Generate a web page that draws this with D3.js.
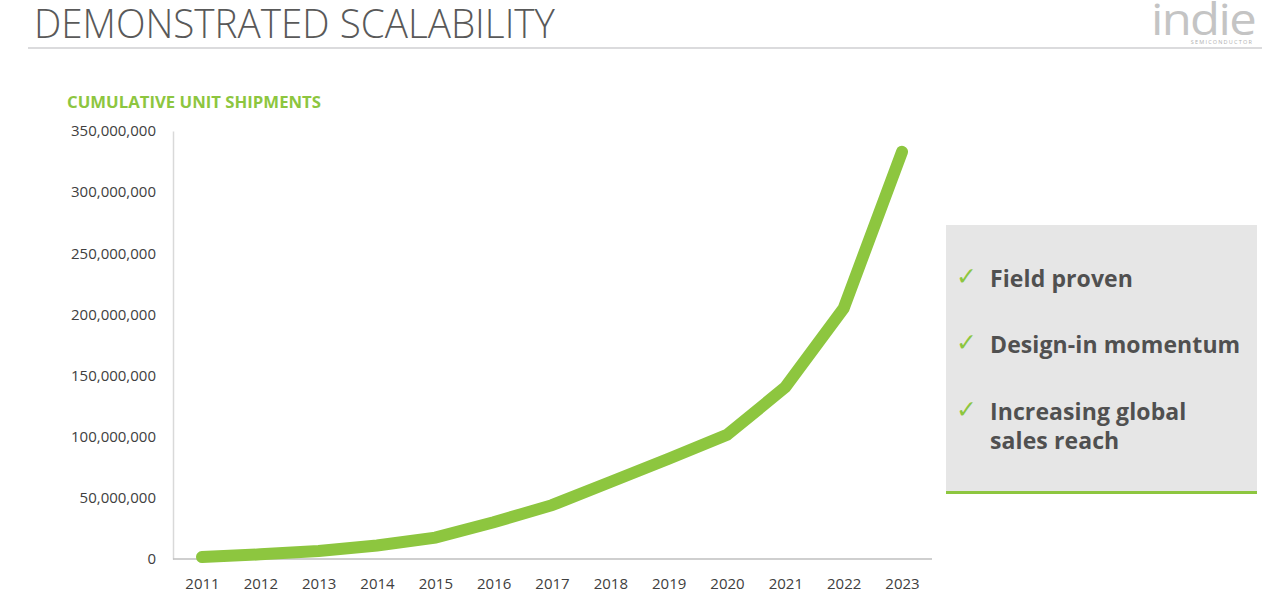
<!DOCTYPE html>
<html><head><meta charset="utf-8">
<script src="https://cdn.jsdelivr.net/npm/d3@7"></script>
<style>body{margin:0;background:#fff}svg{display:block}</style>
</head><body>
<svg id="c" width="1280" height="608"></svg>
<script>
const years = [2011,2012,2013,2014,2015,2016,2017,2018,2019,2020,2021,2022,2023];
const shipments = [1600000,3800000,6500000,11000000,17500000,30000000,44000000,63000000,82000000,101500000,140500000,205000000,333000000];
const yTicks = [0,50000000,100000000,150000000,200000000,250000000,300000000,350000000];
const bullets = [["Field proven"],["Design-in momentum"],["Increasing global","sales reach"]];

const svg = d3.select("#c");
const green = "#8dc63f";
const font = "'Open Sans', sans-serif";

// Header
svg.append("text").attr("x",34).attr("y",38).attr("font-family",font).attr("font-weight",300)
  .attr("font-size",40).attr("fill","#595959").attr("textLength",521).attr("lengthAdjust","spacingAndGlyphs")
  .text("DEMONSTRATED SCALABILITY");
svg.append("line").attr("x1",28).attr("x2",1262).attr("y1",48).attr("y2",48)
  .attr("stroke","#b8b8bc").attr("stroke-width",1.2);
svg.append("text").attr("x",1255).attr("y",35).attr("text-anchor","end").attr("font-family",font)
  .attr("font-weight",400).attr("font-size",44).attr("fill","#c4c4c4").attr("letter-spacing",-1.5)
  .attr("textLength",104).attr("lengthAdjust","spacingAndGlyphs").text("indie");
svg.append("text").attr("x",1253).attr("y",44).attr("text-anchor","end").attr("font-family",font)
  .attr("font-size",5.5).attr("fill","#b0b0b0").attr("letter-spacing",1.2).text("SEMICONDUCTOR");

// Chart title
svg.append("text").attr("x",67).attr("y",108).attr("font-family",font).attr("font-weight",700)
  .attr("font-size",16).attr("fill",green).attr("textLength",254).attr("lengthAdjust","spacingAndGlyphs")
  .text("CUMULATIVE UNIT SHIPMENTS");

// Scales
const x = d3.scalePoint().domain(years).range([202,902]);
const y = d3.scaleLinear().domain([0,350000000]).range([559,131]);

// Axes
const yAxis = svg.append("g").attr("transform","translate(173,0)")
  .call(d3.axisLeft(y).tickValues(yTicks).tickSize(0).tickPadding(17).tickFormat(d3.format(",")));
yAxis.select(".domain").attr("stroke","#d9d9d9").attr("stroke-width",1.5);
yAxis.selectAll("text").attr("font-family",font).attr("font-size",15).attr("fill","#404040");

const xAxis = svg.append("g").attr("transform","translate(0,559)")
  .call(d3.axisBottom(x).tickSize(0).tickPadding(19));
xAxis.select(".domain").attr("d","M173,0H932").attr("stroke","#bfbfbf").attr("stroke-width",1.5);
xAxis.selectAll("text").attr("font-family",font).attr("font-size",15).attr("fill","#404040");

// Line
const line = d3.line().x((d,i)=>x(years[i])).y(d=>y(d));
svg.append("path").datum(shipments).attr("d",line).attr("fill","none")
  .attr("stroke",green).attr("stroke-width",12).attr("stroke-linecap","round").attr("stroke-linejoin","miter");

// Side box
svg.append("rect").attr("x",946).attr("y",225).attr("width",311).attr("height",266).attr("fill","#e6e6e6");
svg.append("line").attr("x1",946).attr("x2",1257).attr("y1",492.5).attr("y2",492.5).attr("stroke",green).attr("stroke-width",3);
const by = [287,353,420];
bullets.forEach((lines,i)=>{
  svg.append("text").attr("x",956).attr("y",by[i]-2).attr("font-family","'DejaVu Sans', sans-serif")
    .attr("font-size",25).attr("fill",green).text("\u2713");
  lines.forEach((t,j)=>{
    svg.append("text").attr("x",990).attr("y",by[i]+j*29).attr("font-family",font).attr("font-weight",700)
      .attr("font-size",23).attr("fill","#505050").attr("letter-spacing",0.1).text(t);
  });
});
</script>
</body></html>
